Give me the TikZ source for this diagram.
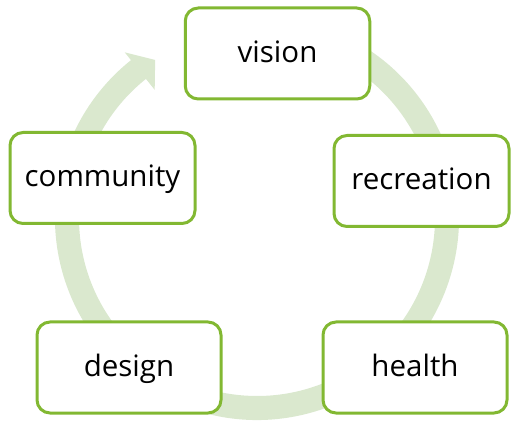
\documentclass[tikz,border=0pt]{standalone}
\usepackage{fontspec}
\setmainfont{Open Sans}
\definecolor{boxgreen}{HTML}{82B832}
\definecolor{bandgreen}{HTML}{DAE8CE}
\begin{document}
\begin{tikzpicture}[x=1pt,y=1pt,
  stepbox/.style={draw=boxgreen, line width=3pt, fill=white, rounded corners=13pt,
    inner sep=0pt, minimum height=91pt, font=\fontsize{29.5}{31}\selectfont,
    text height=22pt, text depth=4pt, align=center},
  band/.style={fill=bandgreen}]
\useasboundingbox (0,0) rectangle (511,423);
\coordinate (c) at (257,205);
% cycle band with arrowhead
\fill[band, shift={(c)}] (70:202) arc[start angle=70, end angle=-231.4, radius=202]
  -- (128.6:212) -- (122.8:188) -- (128.6:164) -- (128.6:178)
  arc[start angle=-231.4, end angle=70, radius=178] -- cycle;
% boxes
\node[stepbox, minimum width=184.5pt] (vision) at (277.5,369.5) {vision};
\node[stepbox, minimum width=175pt] (recreation) at (421.5,242) {recreation};
\node[stepbox, minimum width=185pt] (community) at (102.5,245) {community};
\node[stepbox, minimum width=184pt] (design) at (129,55.5) {design};
\node[stepbox, minimum width=184pt] (health) at (415,55.5) {health};
\end{tikzpicture}
\end{document}
